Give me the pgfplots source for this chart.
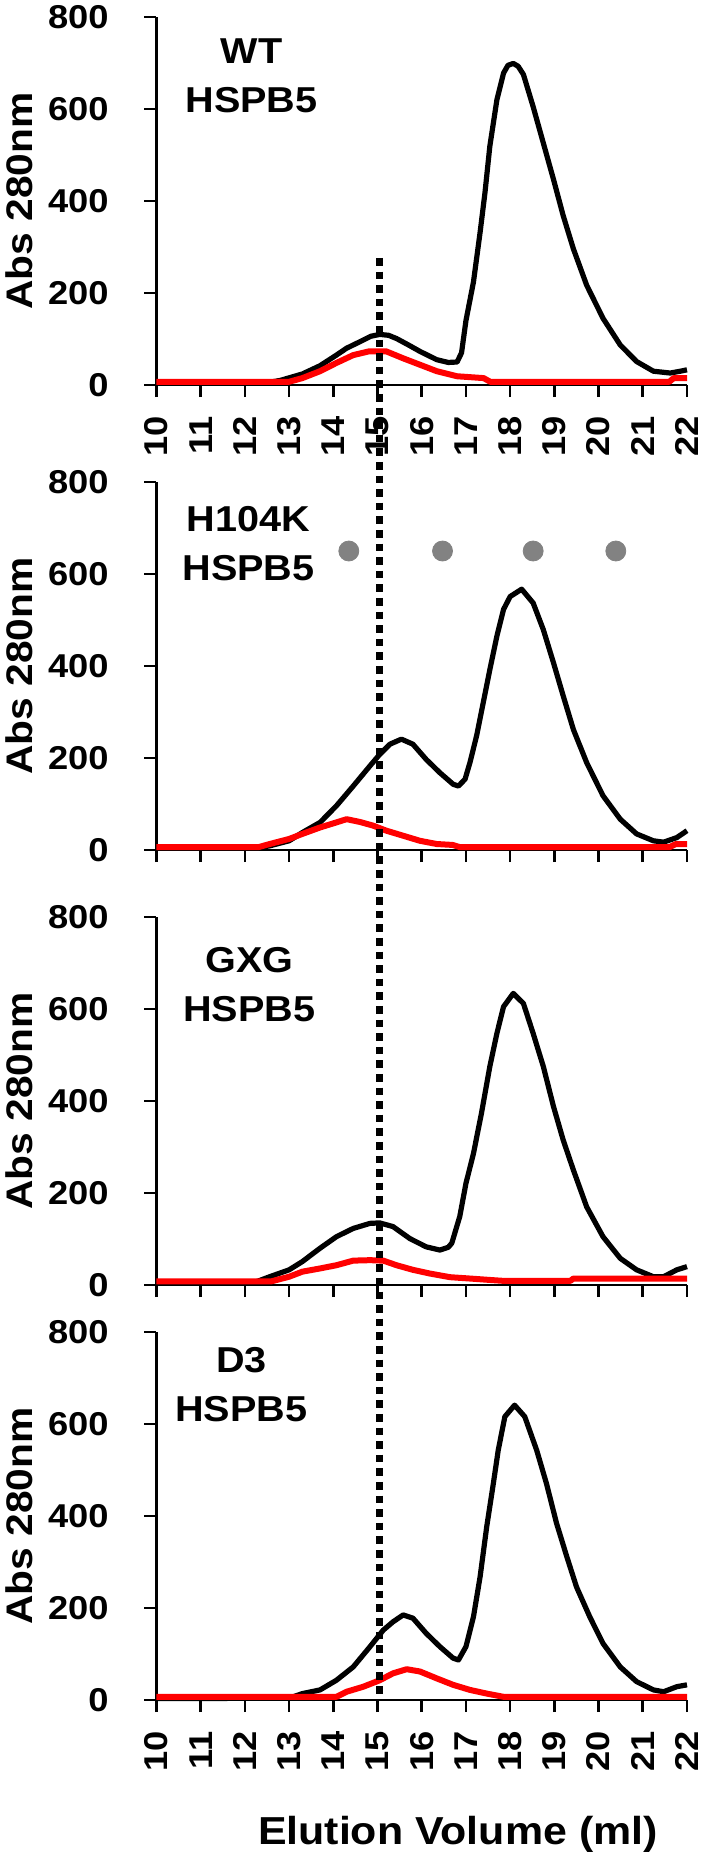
\documentclass[border=0pt]{standalone}
\usepackage{pgfplots}
\pgfplotsset{compat=1.18}
\usepackage{fontspec}
\setmainfont{Liberation Sans}[FakeStretch=1.1]
\definecolor{dotgray}{RGB}{130,130,130}
\tikzset{lab/.style={font=\fontsize{18}{24.5}\selectfont\bfseries, align=center, inner sep=0pt}}
\begin{document}
\begin{tikzpicture}
\useasboundingbox (0,0) rectangle (351pt,-926pt);
\pgfplotsset{
  panel/.style={
    width=265.25pt, height=184pt, scale only axis,
    xmin=10, xmax=22, ymin=0, ymax=800,
    axis lines=left,
    axis line style={-, line width=1.3pt},
    x axis line style={shorten <=-6pt},
    xtick={10,...,22}, ytick={0,200,...,800},
    tick align=outside, major tick length=6pt,
    tick style={line width=1.3pt, black},
    /pgf/number format/assume math mode=true,
    yticklabel style={font=\fontsize{16.5}{16.5}\selectfont\bfseries, inner sep=0pt, anchor=east, xshift=-17.75pt},
    xticklabel style={font=\fontsize{16.5}{16.5}\selectfont\bfseries, inner sep=0pt, yshift=-9.5pt, rotate=90, anchor=east},
    ylabel={Abs 280nm},
    ylabel style={font=\fontsize{18.5}{18.5}\selectfont\bfseries, inner sep=0pt,
      at={(axis description cs:-0.2328,0.5)}, anchor=south},
    clip=false,
  },
  blk/.style={black, line width=2.6pt, line join=round, no marks},
  rd/.style={red, line width=3pt, line join=round, no marks},
}
% Panel 1: WT
\begin{axis}[panel, at={(78.25pt,-8.5pt)}, anchor=north west]
\addplot[blk] coordinates {(10,4) (12.5,5) (12.8,10) (13.3,24) (13.7,42) (14.07,65) (14.3,80) (14.6,94) (14.85,106) (15.05,110) (15.25,108) (15.43,101) (15.7,87) (15.96,73) (16.34,55) (16.6,49) (16.8,50) (16.9,70) (17.0,140) (17.17,224) (17.32,332) (17.43,418) (17.54,519) (17.7,620) (17.85,678) (17.95,695) (18.07,699) (18.18,693) (18.3,675) (18.52,605) (18.75,526) (18.98,447) (19.2,368) (19.43,296) (19.73,217) (20.1,145) (20.49,87) (20.86,51) (21.24,30) (21.62,26) (21.85,30) (22.0,33)};
\addplot[rd] coordinates {(10,7) (13.0,7) (13.3,15) (13.7,30) (14.07,48) (14.45,65) (14.8,73) (15.2,73) (15.58,58) (15.96,44) (16.34,30) (16.8,19) (17.4,15) (17.55,7) (21.6,7) (21.7,15) (22,15)};
\node[lab] at (axis cs:12.15,673) {WT\\HSPB5};
\end{axis}
% Panel 2: H104K
\begin{axis}[panel, at={(78.25pt,-241pt)}, anchor=north west, xticklabels={}]
\addplot[blk] coordinates {(10,4) (12.3,5) (12.56,9) (13.0,20) (13.3,38) (13.7,60) (14.07,96) (14.45,139) (14.83,183) (15.05,208) (15.28,230) (15.54,241) (15.8,230) (16.1,197) (16.41,168) (16.71,143) (16.83,139) (16.98,154) (17.09,190) (17.24,248) (17.39,320) (17.54,392) (17.7,465) (17.85,523) (18.0,551) (18.26,567) (18.52,537) (18.75,479) (18.98,407) (19.2,335) (19.43,262) (19.73,190) (20.1,118) (20.49,67) (20.86,35) (21.24,20) (21.47,17) (21.77,27) (22.0,42)};
\addplot[rd] coordinates {(10,6) (12.3,6) (12.56,13) (13.0,24) (13.3,35) (13.7,49) (14.07,60) (14.3,67) (14.6,61) (14.9,53) (15.2,42) (15.58,31) (15.96,20) (16.34,13) (16.7,11) (16.87,6) (21.6,6) (21.75,13) (22,13)};
\addplot[only marks, mark=*, mark size=5pt, color=dotgray] coordinates {(14.35,650) (16.47,650) (18.52,650) (20.39,650)};
\node[lab] at (axis cs:12.08,666) {H104K\\HSPB5};
\end{axis}
% Panel 3: GXG
\begin{axis}[panel, at={(78.25pt,-458.5pt)}, anchor=north west, xticklabels={}]
\addplot[blk] coordinates {(10,4) (12.2,5) (12.56,18) (13.0,33) (13.3,51) (13.7,80) (14.07,105) (14.45,123) (14.83,134) (15.05,135) (15.35,127) (15.73,101) (16.1,83) (16.41,76) (16.6,82) (16.68,91) (16.86,149) (17.0,221) (17.17,286) (17.35,373) (17.54,475) (17.7,547) (17.85,605) (18.07,634) (18.3,612) (18.52,547) (18.75,475) (18.98,388) (19.2,315) (19.43,250) (19.73,170) (20.1,105) (20.49,58) (20.86,33) (21.24,18) (21.47,18) (21.77,33) (22.0,40)};
\addplot[rd] coordinates {(10,8) (12.6,8) (13.0,18) (13.3,29) (13.7,36) (14.07,43) (14.45,53) (14.83,54) (15.13,53) (15.43,43) (15.8,33) (16.18,25) (16.64,17) (17.1,14) (17.54,11) (17.85,9) (19.36,9) (19.43,14) (22,14)};
\node[lab] at (axis cs:12.1,654) {GXG\\HSPB5};
\end{axis}
% Panel 4: D3
\begin{axis}[panel, at={(78.25pt,-666pt)}, anchor=north west,
  xlabel={Elution Volume (ml)},
  xlabel style={font=\fontsize{19.5}{19.5}\selectfont\bfseries, inner sep=0pt,
    at={(axis description cs:0.568,0)}, anchor=base, yshift=-72pt}]
\addplot[blk] coordinates {(10,3) (13.0,4) (13.3,14) (13.7,22) (14.07,43) (14.45,72) (14.83,116) (15.13,152) (15.35,170) (15.58,185) (15.8,178) (16.1,145) (16.41,116) (16.71,91) (16.83,87) (17.0,116) (17.17,181) (17.32,268) (17.47,377) (17.62,471) (17.73,543) (17.88,616) (18.1,641) (18.33,616) (18.6,543) (18.82,471) (19.05,384) (19.28,312) (19.5,246) (19.8,181) (20.1,123) (20.49,72) (20.86,40) (21.24,22) (21.47,18) (21.77,29) (22.0,33)};
\addplot[rd] coordinates {(10,7) (14.07,7) (14.3,18) (14.68,29) (15.05,43) (15.35,58) (15.66,67) (15.96,62) (16.34,47) (16.71,33) (17.09,22) (17.47,14) (17.85,7) (22,7)};
\node[lab] at (axis cs:11.92,686) {D3\\HSPB5};
\addplot[black, line width=3.6pt, dash pattern=on 3.8pt off 3pt] coordinates {(15.05,3135) (15.05,0)};
\end{axis}
\end{tikzpicture}
\end{document}
